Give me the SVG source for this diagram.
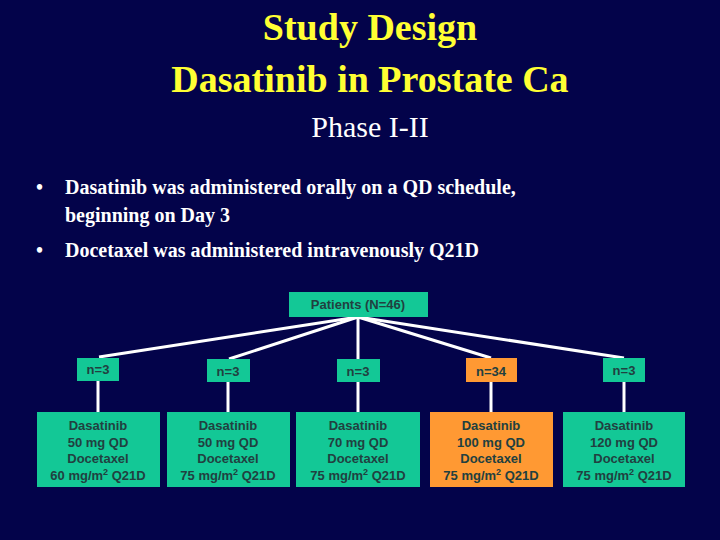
<svg xmlns="http://www.w3.org/2000/svg" width="720" height="540" viewBox="0 0 720 540">
<style>
.t{font-family:"Liberation Serif",serif;fill:#ffff33;font-weight:bold;text-anchor:middle}
.b{font-family:"Liberation Serif",serif;fill:#ffffff;font-weight:bold;font-size:20px}
.g{fill:#13c896}.o{fill:#ff9933}
.l{font-family:"Liberation Sans",Arial,sans-serif;font-weight:bold;font-size:13px;fill:#214040;text-anchor:middle}
.c line{stroke:#ffffff;stroke-width:3}
</style>
<rect width="720" height="540" fill="#03034a"/>
<text class="t" x="370" y="40" font-size="38">Study Design</text>
<text class="t" x="370" y="92" font-size="38">Dasatinib in Prostate Ca</text>
<text x="370" y="137" font-size="30" text-anchor="middle" fill="#ffffff" font-family="Liberation Serif,serif">Phase I-II</text>
<text class="b" x="36" y="194">•</text><text class="b" x="65" y="194">Dasatinib was administered orally on a QD schedule,</text>
<text class="b" x="65" y="222">beginning on Day 3</text>
<text class="b" x="36" y="257">•</text><text class="b" x="65" y="257">Docetaxel was administered intravenously Q21D</text>
<g class="c">
<line x1="358" y1="317" x2="99" y2="357"/><line x1="358" y1="317" x2="229" y2="359"/><line x1="358" y1="317" x2="358" y2="359"/><line x1="358" y1="317" x2="491" y2="358"/><line x1="358" y1="317" x2="624" y2="358"/>
<line x1="98" y1="381" x2="98" y2="412"/><line x1="228" y1="382" x2="228" y2="412"/><line x1="358" y1="382" x2="358" y2="412"/><line x1="491" y1="382" x2="491" y2="412"/><line x1="624" y1="382" x2="624" y2="412"/>
</g>
<g id="patients"><rect class="g" x="289" y="292" width="139" height="25"/><text class="l" x="358" y="309">Patients (N=46)</text></g>
<g id="n1"><rect class="g" x="77" y="358" width="42" height="23"/><text class="l" x="98" y="374">n=3</text></g>
<g id="n2"><rect class="g" x="207" y="359" width="43" height="23"/><text class="l" x="228" y="376">n=3</text></g>
<g id="n3"><rect class="g" x="337" y="359" width="43" height="23"/><text class="l" x="358" y="376">n=3</text></g>
<g id="n4"><rect class="o" x="466" y="358" width="51" height="24"/><text class="l" x="491" y="376">n=34</text></g>
<g id="n5"><rect class="g" x="603" y="358" width="42" height="24"/><text class="l" x="624" y="375">n=3</text></g>
<g id="a1"><rect class="g" x="37" y="412" width="123" height="75"/><text class="l"><tspan x="98" y="430">Dasatinib</tspan><tspan x="98" y="447">50 mg QD</tspan><tspan x="98" y="463">Docetaxel</tspan><tspan x="98" y="480">60 mg/m<tspan font-size="9" dy="-5">2</tspan><tspan dy="5"> Q21D</tspan></tspan></text></g>
<g id="a2"><rect class="g" x="167" y="412" width="123" height="75"/><text class="l"><tspan x="228" y="430">Dasatinib</tspan><tspan x="228" y="447">50 mg QD</tspan><tspan x="228" y="463">Docetaxel</tspan><tspan x="228" y="480">75 mg/m<tspan font-size="9" dy="-5">2</tspan><tspan dy="5"> Q21D</tspan></tspan></text></g>
<g id="a3"><rect class="g" x="296" y="412" width="124" height="75"/><text class="l"><tspan x="358" y="430">Dasatinib</tspan><tspan x="358" y="447">70 mg QD</tspan><tspan x="358" y="463">Docetaxel</tspan><tspan x="358" y="480">75 mg/m<tspan font-size="9" dy="-5">2</tspan><tspan dy="5"> Q21D</tspan></tspan></text></g>
<g id="a4"><rect class="o" x="430" y="412" width="123" height="75"/><text class="l"><tspan x="491" y="430">Dasatinib</tspan><tspan x="491" y="447">100 mg QD</tspan><tspan x="491" y="463">Docetaxel</tspan><tspan x="491" y="480">75 mg/m<tspan font-size="9" dy="-5">2</tspan><tspan dy="5"> Q21D</tspan></tspan></text></g>
<g id="a5"><rect class="g" x="563" y="412" width="122" height="75"/><text class="l"><tspan x="624" y="430">Dasatinib</tspan><tspan x="624" y="447">120 mg QD</tspan><tspan x="624" y="463">Docetaxel</tspan><tspan x="624" y="480">75 mg/m<tspan font-size="9" dy="-5">2</tspan><tspan dy="5"> Q21D</tspan></tspan></text></g>
</svg>
